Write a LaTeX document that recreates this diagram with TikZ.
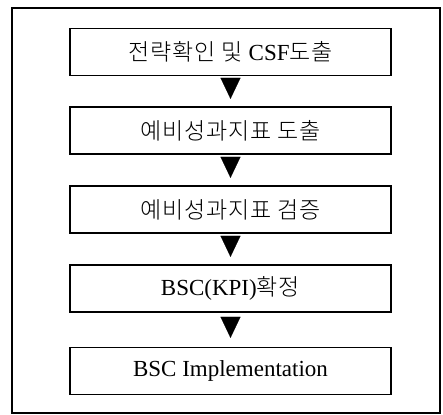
\documentclass[tikz,border=0pt]{standalone}
\usepackage{fontspec}
\setmainfont{Liberation Serif}
\newfontfamily\kr[Scale=1.0,LetterSpace=4]{Noto Sans CJK KR Light}
\usetikzlibrary{arrows.meta}
\tikzset{
  stepbox/.style={draw, line width=1.3pt, minimum width=321pt, minimum height=47pt, inner sep=0pt,
    font=\fontsize{23}{26}\selectfont},
  flow/.style={line width=0.1pt, -{Triangle[width=20pt,length=21pt]}, shorten <=3.5pt, shorten >=7.5pt}
}
\begin{document}
\begin{tikzpicture}[x=1pt,y=-1pt]
\useasboundingbox (0,0) rectangle (443,414);
\draw[line width=1.2pt] (12,8) rectangle (440,413);
\node[stepbox] (b1) at (230.5,52) {{\kr 전략확인 및 }CSF{\kr 도출}};
\node[stepbox] (b2) at (230.5,130.5) {{\kr 예비성과지표 도출}};
\node[stepbox] (b3) at (230.5,209.5) {{\kr 예비성과지표 검증}};
\node[stepbox] (b4) at (230.5,288.5) {BSC(KPI){\kr 확정}};
\node[stepbox] (b5) at (230.5,371) {BSC Implementation};
\draw[flow] (b1) -- (b2);
\draw[flow] (b2) -- (b3);
\draw[flow] (b3) -- (b4);
\draw[flow, shorten <=5pt, shorten >=9pt] (b4) -- (b5);
\end{tikzpicture}
\end{document}
